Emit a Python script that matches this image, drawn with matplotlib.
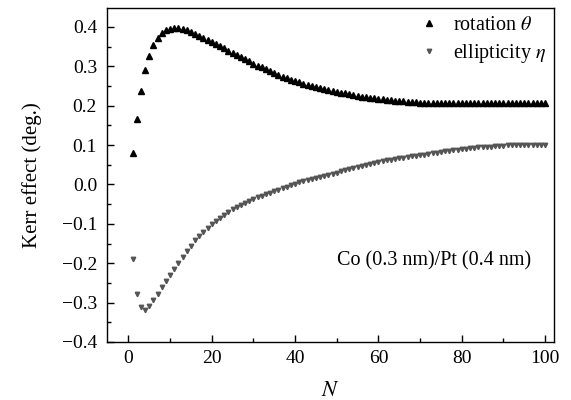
import matplotlib.pyplot as plt
from matplotlib.ticker import MultipleLocator, FuncFormatter

plt.rcParams['font.family'] = ['Liberation Serif', 'DejaVu Serif']
plt.rcParams['mathtext.fontset'] = 'stix'

N = list(range(1, 101))

rotation = [
    0.081, 0.167, 0.238, 0.291, 0.327, 0.354, 0.372, 0.384, 0.392, 0.395,
    0.397, 0.396, 0.394, 0.392, 0.387, 0.381, 0.376, 0.372, 0.367, 0.362,
    0.356, 0.351, 0.346, 0.340, 0.335, 0.329, 0.324, 0.318, 0.313, 0.307,
    0.302, 0.297, 0.292, 0.287, 0.282, 0.278, 0.274, 0.270, 0.266, 0.263,
    0.259, 0.256, 0.253, 0.250, 0.247, 0.245, 0.242, 0.240, 0.237, 0.235,
    0.233, 0.231, 0.229, 0.227, 0.225, 0.223, 0.222, 0.220, 0.219, 0.217,
    0.216, 0.215, 0.214, 0.213, 0.212, 0.211, 0.210, 0.209, 0.209, 0.208,
    0.208, 0.207, 0.207, 0.207, 0.206, 0.206, 0.206, 0.206, 0.206, 0.206,
    0.206, 0.206, 0.206, 0.206, 0.206, 0.206, 0.206, 0.206, 0.206, 0.206,
    0.206, 0.206, 0.207, 0.207, 0.207, 0.207, 0.207, 0.208, 0.208, 0.208,
]

ellipticity = [
    -0.188, -0.277, -0.312, -0.318, -0.308, -0.293, -0.277, -0.260, -0.244, -0.230,
    -0.215, -0.200, -0.183, -0.168, -0.155, -0.142, -0.131, -0.120, -0.110, -0.101,
    -0.093, -0.085, -0.078, -0.070, -0.063, -0.057, -0.052, -0.047, -0.042, -0.037,
    -0.033, -0.029, -0.025, -0.021, -0.017, -0.013, -0.010, -0.006, -0.002, 0.001,
    0.005, 0.008, 0.012, 0.014, 0.017, 0.019, 0.022, 0.025, 0.027, 0.030,
    0.033, 0.036, 0.039, 0.041, 0.044, 0.047, 0.049, 0.052, 0.055, 0.057,
    0.059, 0.061, 0.063, 0.065, 0.066, 0.068, 0.070, 0.071, 0.073, 0.075,
    0.076, 0.078, 0.079, 0.081, 0.082, 0.084, 0.085, 0.087, 0.088, 0.089,
    0.091, 0.092, 0.093, 0.094, 0.095, 0.096, 0.096, 0.097, 0.098, 0.098,
    0.099, 0.099, 0.100, 0.100, 0.100, 0.101, 0.101, 0.101, 0.101, 0.101,
]

fig = plt.figure(figsize=(5.71, 4.0), dpi=100)
ax = fig.add_axes([0.187, 0.145, 0.783, 0.835])

ax.plot(N, rotation, linestyle='none', marker='^', markersize=4,
        color='black', label=r'rotation $\theta$')
ax.plot(N, ellipticity, linestyle='none', marker='v', markersize=3.2,
        color='#555555', label=r'ellipticity $\eta$')

ax.set_xlim(-5.2, 102.1)
ax.set_ylim(-0.4, 0.448)
ax.xaxis.set_major_locator(MultipleLocator(20))
ax.xaxis.set_minor_locator(MultipleLocator(10))
ax.yaxis.set_major_locator(MultipleLocator(0.1))
ax.yaxis.set_minor_locator(MultipleLocator(0.05))
ax.yaxis.set_major_formatter(FuncFormatter(lambda v, p: f'{v:.1f}'.replace('-', '\u2212') if abs(v) > 1e-9 else '0.0'))

ax.tick_params(which='both', direction='in', top=False, right=False, labelsize=14)
ax.tick_params(axis='y', pad=7)
ax.tick_params(axis='x', pad=6)
ax.tick_params(which='major', length=5, width=1)
ax.tick_params(which='minor', length=3, width=1)
for s in ax.spines.values():
    s.set_linewidth(1)

ax.set_xlabel(r'$N$', fontsize=16)
ax.set_ylabel('Kerr effect (deg.)', fontsize=15)
ax.xaxis.set_label_coords(0.5, -0.12)
ax.yaxis.set_label_coords(-0.145, 0.5)

ax.text(73.3, -0.195, 'Co (0.3 nm)/Pt (0.4 nm)', ha='center', va='center', fontsize=14.5)

ax.legend(loc='upper right', bbox_to_anchor=(1.0, 1.0), frameon=False, fontsize=14.5,
          handlelength=0.8, handletextpad=0.8, labelspacing=0.35, borderaxespad=0.0)

fig.savefig('out.png', dpi=100)
